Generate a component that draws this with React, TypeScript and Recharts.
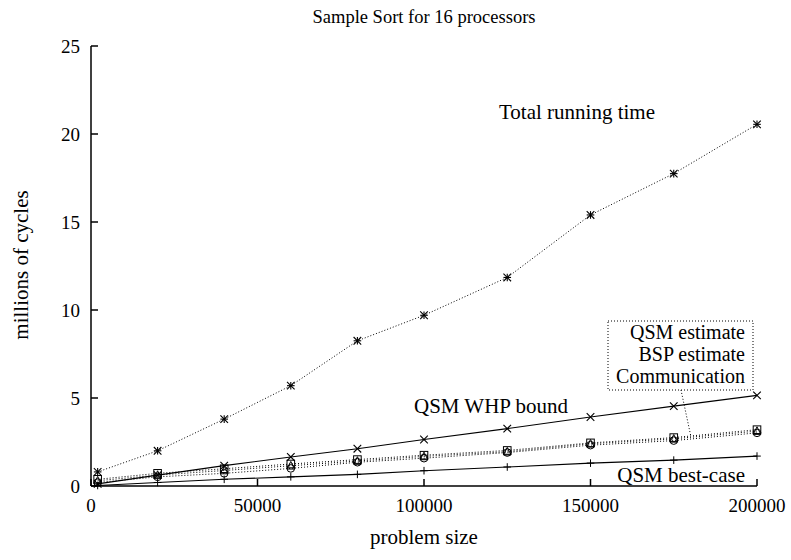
import React from 'react';
import { LineChart, Line, XAxis, YAxis } from 'recharts';

const sizes = [2000, 20000, 40000, 60000, 80000, 100000, 125000, 150000, 175000, 200000];
const totalTime = [0.8, 2.0, 3.8, 5.7, 8.25, 9.7, 11.85, 15.4, 17.75, 20.55];
const whpBound = [0.12, 0.62, 1.16, 1.65, 2.12, 2.64, 3.26, 3.92, 4.54, 5.15];
const bestCase = [0.03, 0.2, 0.38, 0.52, 0.66, 0.87, 1.08, 1.3, 1.47, 1.7];
const qsmEstimate = [0.38, 0.72, 0.98, 1.25, 1.5, 1.75, 2.02, 2.45, 2.75, 3.2];
const bspEstimate = [0.3, 0.62, 0.88, 1.15, 1.42, 1.68, 1.95, 2.4, 2.68, 3.12];
const communication = [0.2, 0.52, 0.72, 1.0, 1.35, 1.58, 1.9, 2.32, 2.58, 3.02];

const xTicks = [0, 50000, 100000, 150000, 200000];
const yTicks = [0, 5, 10, 15, 20, 25];

const data = sizes.map((n, i) => ({
  n,
  total: totalTime[i],
  whp: whpBound[i],
  best: bestCase[i],
  qsm: qsmEstimate[i],
  bsp: bspEstimate[i],
  comm: communication[i],
}));

const FONT = '"Liberation Serif", "DejaVu Serif", serif';
const S = 3.8;

const Plus = (p: any) => (
  <g key={p.key}>
    <line x1={p.cx - S} y1={p.cy} x2={p.cx + S} y2={p.cy} stroke="#000" strokeWidth={1} />
    <line x1={p.cx} y1={p.cy - S} x2={p.cx} y2={p.cy + S} stroke="#000" strokeWidth={1} />
  </g>
);
const Cross = (p: any) => (
  <g key={p.key}>
    <line x1={p.cx - S} y1={p.cy - S} x2={p.cx + S} y2={p.cy + S} stroke="#000" strokeWidth={1.1} />
    <line x1={p.cx - S} y1={p.cy + S} x2={p.cx + S} y2={p.cy - S} stroke="#000" strokeWidth={1.1} />
  </g>
);
const Star = (p: any) => (
  <g key={p.key}>
    <line x1={p.cx - S} y1={p.cy} x2={p.cx + S} y2={p.cy} stroke="#000" strokeWidth={1.1} />
    <line x1={p.cx} y1={p.cy - S} x2={p.cx} y2={p.cy + S} stroke="#000" strokeWidth={1.1} />
    <line x1={p.cx - S} y1={p.cy - S} x2={p.cx + S} y2={p.cy + S} stroke="#000" strokeWidth={1.1} />
    <line x1={p.cx - S} y1={p.cy + S} x2={p.cx + S} y2={p.cy - S} stroke="#000" strokeWidth={1.1} />
  </g>
);
const Square = (p: any) => (
  <rect key={p.key} x={p.cx - S} y={p.cy - S} width={2 * S} height={2 * S} fill="none" stroke="#000" strokeWidth={1} />
);
const Triangle = (p: any) => (
  <polygon
    key={p.key}
    points={`${p.cx},${p.cy - S - 0.5} ${p.cx - S},${p.cy + S - 0.5} ${p.cx + S},${p.cy + S - 0.5}`}
    fill="none"
    stroke="#000"
    strokeWidth={1}
  />
);
const Circle = (p: any) => (
  <circle key={p.key} cx={p.cx} cy={p.cy} r={S} fill="none" stroke="#000" strokeWidth={1} />
);

const tickStyle = { fontFamily: FONT, fontSize: 19, fill: '#000' } as const;
const labelStyle = { fontFamily: FONT, fontSize: 21, fill: '#000' } as const;
const legendStyle = { fontFamily: FONT, fontSize: 20, fill: '#000' } as const;
const titleStyle = { fontFamily: FONT, fontSize: 18.5, fill: '#000' } as const;

export default function App() {
  return (
    <div style={{ position: 'absolute', left: 0, top: 0, width: 791, height: 560, background: '#fff' }}>
      <LineChart
        width={791}
        height={560}
        data={data}
        margin={{ top: 46, right: 34, bottom: 44, left: 31 }}
      >
        <XAxis
          xAxisId="b"
          dataKey="n"
          type="number"
          domain={[0, 200000]}
          ticks={xTicks}
          interval={0}
          height={30}
          tickSize={-7}
          tickMargin={20}
          stroke="#000"
          strokeWidth={1.5}
          tick={{ ...tickStyle }}
        />
        <XAxis
          xAxisId="t"
          orientation="top"
          dataKey="n"
          type="number"
          domain={[0, 200000]}
          ticks={xTicks}
          interval={0}
          height={0}
          tickSize={-7}
          tickFormatter={() => ''}
          stroke="#000"
          strokeWidth={1.5}
        />
        <YAxis
          yAxisId="l"
          type="number"
          domain={[0, 25]}
          ticks={yTicks}
          interval={0}
          width={60}
          tickSize={-7}
          tickMargin={18}
          stroke="#000"
          strokeWidth={1.5}
          tick={{ ...tickStyle }}
        />
        <YAxis
          yAxisId="r"
          orientation="right"
          type="number"
          domain={[0, 25]}
          ticks={yTicks}
          interval={0}
          width={0}
          tickSize={-7}
          tickFormatter={() => ''}
          stroke="#000"
          strokeWidth={1.5}
        />
        <Line xAxisId="b" yAxisId="l" dataKey="best" stroke="#000" strokeWidth={1.1} dot={Plus} isAnimationActive={false} />
        <Line xAxisId="b" yAxisId="l" dataKey="whp" stroke="#000" strokeWidth={1.1} dot={Cross} isAnimationActive={false} />
        <Line xAxisId="b" yAxisId="l" dataKey="comm" stroke="#000" strokeWidth={1} strokeDasharray="1 2" dot={Circle} isAnimationActive={false} />
        <Line xAxisId="b" yAxisId="l" dataKey="bsp" stroke="#000" strokeWidth={1} strokeDasharray="1 2" dot={Triangle} isAnimationActive={false} />
        <Line xAxisId="b" yAxisId="l" dataKey="qsm" stroke="#000" strokeWidth={1} strokeDasharray="1 2" dot={Square} isAnimationActive={false} />
        <Line xAxisId="b" yAxisId="l" dataKey="total" stroke="#000" strokeWidth={1} strokeDasharray="1 2" dot={Star} isAnimationActive={false} />

        <text x={424} y={23} textAnchor="middle" style={titleStyle}>Sample Sort for 16 processors</text>
        <text x={424} y={544} textAnchor="middle" style={labelStyle}>problem size</text>
        <text x={28} y={265} textAnchor="middle" transform="rotate(-90 28 265)" style={labelStyle}>millions of cycles</text>

        <text x={655} y={119} textAnchor="end" style={labelStyle}>Total running time</text>
        <text x={568} y={413} textAnchor="end" style={labelStyle}>QSM WHP bound</text>
        <text x={745} y={482} textAnchor="end" style={labelStyle}>QSM best-case</text>

        <rect x={608} y={321} width={145} height={69} fill="none" stroke="#000" strokeWidth={1} strokeDasharray="1 2" />
        <text x={745} y={339} textAnchor="end" style={legendStyle}>QSM estimate</text>
        <text x={745} y={361} textAnchor="end" style={legendStyle}>BSP estimate</text>
        <text x={745} y={383} textAnchor="end" style={legendStyle}>Communication</text>
        <line x1={681} y1={390} x2={691} y2={437} stroke="#000" strokeWidth={1} strokeDasharray="1 2" />
      </LineChart>
    </div>
  );
}
